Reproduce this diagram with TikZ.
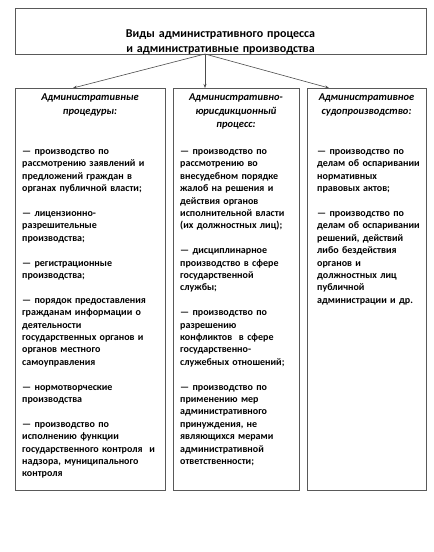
\documentclass[tikz,border=0pt]{standalone}
\usepackage{fontspec}
\setmainfont{Carlito}
\usetikzlibrary{arrows.meta}
\begin{document}
\begin{tikzpicture}[x=1pt,y=-1pt,
  frame/.style={draw=black!65, line width=0.8pt, inner sep=0pt, anchor=north west},
  arr/.style={draw=black!70, line width=0.6pt, -{Stealth[length=4pt,width=3pt]}},
  ttl/.style={font=\bfseries\fontsize{12}{15.2}\selectfont, text width=300pt, align=center, inner sep=0pt, anchor=base},
  head/.style={font=\bfseries\itshape\fontsize{10.5}{13.7}\selectfont, text width=124pt, align=center, inner sep=0pt, anchor=base},
  body/.style={font=\bfseries\fontsize{10}{12.4}\selectfont, align=left, inner sep=0pt, anchor=base west},
]
\useasboundingbox (0,0) rectangle (434,552);
\fill[white] (0,0) rectangle (434,552);
% boxes
\node[frame, minimum width=411pt, minimum height=46pt] (top) at (15,8) {};
\node[frame, minimum width=150pt, minimum height=402pt] (b1) at (15,88) {};
\node[frame, minimum width=126pt, minimum height=402pt] (b2) at (173,88) {};
\node[frame, minimum width=119pt, minimum height=402pt] (b3) at (307,88) {};
% title
\node[ttl] (title) at (220.5,37.5) {Виды административного процесса\\и административные производства};
% connectors
\coordinate (fork) at (205,54);
\coordinate (e1) at (73,88);
\coordinate (e2) at (205,88);
\coordinate (e3) at (329,88);
\draw[arr] (fork) -- (e1);
\draw[arr] (fork) -- (e2);
\draw[arr] (fork) -- (e3);
% headings
\node[head] (h1) at (90,100.5) {Административные\\процедуры:};
\node[head] (h2) at (236,100.5) {Административно-\\юрисдикционный\\процесс:};
\node[head] (h3) at (366.5,100.5) {Административное\\судопроизводство:};
% bodies
\node[body, text width=146pt] (t1) at (22,154.5) {%
— производство по\\
рассмотрению заявлений и\\
предложений граждан в\\
органах публичной власти;\\[12.4pt]
— лицензионно-\\
разрешительные\\
производства;\\[12.4pt]
— регистрационные\\
производства;\\[12.4pt]
— порядок предоставления\\
гражданам информации о\\
деятельности\\
государственных органов и\\
органов местного\\
самоуправления\\[12.4pt]
— нормотворческие\\
производства\\[12.4pt]
— производство по\\
исполнению функции\\
государственного контроля\ \ и\\
надзора, муниципального\\
контроля};
\node[body, text width=122pt] (t2) at (180,154.5) {%
— производство по\\
рассмотрению во\\
внесудебном порядке\\
жалоб на решения и\\
действия органов\\
исполнительной власти\\
(их должностных лиц);\\[12.4pt]
— дисциплинарное\\
производство в сфере\\
государственной\\
службы;\\[12.4pt]
— производство по\\
разрешению\\
конфликтов\ \ в сфере\\
государственно-\\
служебных отношений;\\[12.4pt]
— производство по\\
применению мер\\
административного\\
принуждения, не\\
являющихся мерами\\
административной\\
ответственности;};
\node[body, text width=112pt] (t3) at (317,154.5) {%
— производство по\\
делам об оспаривании\\
нормативных\\
правовых актов;\\[12.4pt]
— производство по\\
делам об оспаривании\\
решений, действий\\
либо бездействия\\
органов и\\
должностных лиц\\
публичной\\
администрации и др.};
\end{tikzpicture}
\end{document}
